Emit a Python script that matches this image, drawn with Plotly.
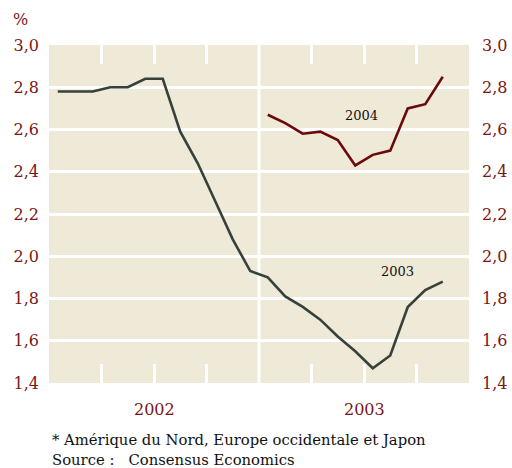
import plotly.graph_objects as go

# ---- data ----
month_idx_2003 = list(range(0, 23))          # Jan 2002 .. Nov 2003
values_2003 = [2.78, 2.78, 2.78, 2.80, 2.80, 2.84, 2.84, 2.59, 2.44, 2.26,
               2.08, 1.93, 1.90, 1.81, 1.76, 1.70, 1.62, 1.55, 1.47, 1.53,
               1.76, 1.84, 1.88]
month_idx_2004 = list(range(12, 23))         # Jan 2003 .. Nov 2003
values_2004 = [2.67, 2.63, 2.58, 2.59, 2.55, 2.43, 2.48, 2.50, 2.70, 2.72, 2.85]

y_tickvals = [1.4, 1.6, 1.8, 2.0, 2.2, 2.4, 2.6, 2.8, 3.0]
y_ticktext = ["1,4", "1,6", "1,8", "2,0", "2,2", "2,4", "2,6", "2,8", "3,0"]
quarter_marks = [2.5, 5.5, 8.5, 14.5, 17.5, 20.5]
year_boundary = 11.5
year_labels = ["2002", "2003"]
year_centers = [5.5, 17.5]

RED = "#7A1616"
GREY = "#36413C"
DARKRED = "#6B0A0A"
BG = "#EFE9D7"
FONT = "DejaVu Serif"

fig = go.Figure()
fig.add_trace(go.Scatter(x=month_idx_2003, y=values_2003, mode="lines",
                         line=dict(color=GREY, width=2.6), yaxis="y",
                         hoverinfo="skip", showlegend=False))
fig.add_trace(go.Scatter(x=month_idx_2004, y=values_2004, mode="lines",
                         line=dict(color=DARKRED, width=2.6), yaxis="y2",
                         hoverinfo="skip", showlegend=False))

fig.add_shape(type="line", xref="x", yref="paper", x0=year_boundary, x1=year_boundary,
              y0=0, y1=1, line=dict(color="white", width=3), layer="below")

axis_font = dict(family=FONT, size=16, color=RED)
fig.update_layout(
    width=512, height=468,
    margin=dict(l=49, r=43, t=45, b=85, autoexpand=False),
    paper_bgcolor="white", plot_bgcolor=BG,
    xaxis=dict(range=[-0.5, 23.5], tickvals=quarter_marks, ticks="inside",
               ticklen=19, tickwidth=3, tickcolor="white", mirror="ticks",
               showticklabels=False, showgrid=False, zeroline=False, showline=False,
               automargin=False),
    yaxis=dict(range=[1.4, 3.0], tickvals=y_tickvals, ticktext=y_ticktext,
               showgrid=True, gridcolor="white", gridwidth=2.5, zeroline=False,
               tickfont=axis_font, ticks="", ticklabelstandoff=9, automargin=False),
    yaxis2=dict(range=[1.4, 3.0], tickvals=y_tickvals, ticktext=y_ticktext,
                overlaying="y", side="right", showgrid=False, zeroline=False,
                tickfont=axis_font, ticks="", ticklabelstandoff=12, automargin=False),
)

ann = []
ann.append(dict(text="%", xref="paper", yref="paper", x=-0.069, y=1.074,
                xanchor="center", yanchor="middle",
                showarrow=False, font=dict(family=FONT, size=16, color=RED)))
for lbl, xc in zip(year_labels, year_centers):
    ann.append(dict(text=lbl, xref="x", yref="paper", x=xc, y=-0.077,
                    xanchor="center", yanchor="middle",
                    showarrow=False, font=dict(family=FONT, size=16, color=RED)))
ann.append(dict(text="2004", xref="x", yref="y", x=17.37, y=2.666, showarrow=False,
                xanchor="center", yanchor="middle",
                font=dict(family=FONT, size=13, color="#111111")))
ann.append(dict(text="2003", xref="x", yref="y", x=19.43, y=1.93, showarrow=False,
                xanchor="center", yanchor="middle",
                font=dict(family=FONT, size=13, color="#111111")))
ann.append(dict(text="* Amérique du Nord, Europe occidentale et Japon", xref="paper",
                yref="paper", x=0.0024, y=-0.166, xanchor="left", yanchor="middle",
                showarrow=False, font=dict(family=FONT, size=14.8, color="#111111")))
ann.append(dict(text="Source :   Consensus Economics", xref="paper",
                yref="paper", x=0.0024, y=-0.225, xanchor="left", yanchor="middle",
                showarrow=False, font=dict(family=FONT, size=14.8, color="#111111")))
fig.update_layout(annotations=ann)

fig.write_html("out.html", config={"displayModeBar": False},
               post_script="document.body.style.margin='0';")
